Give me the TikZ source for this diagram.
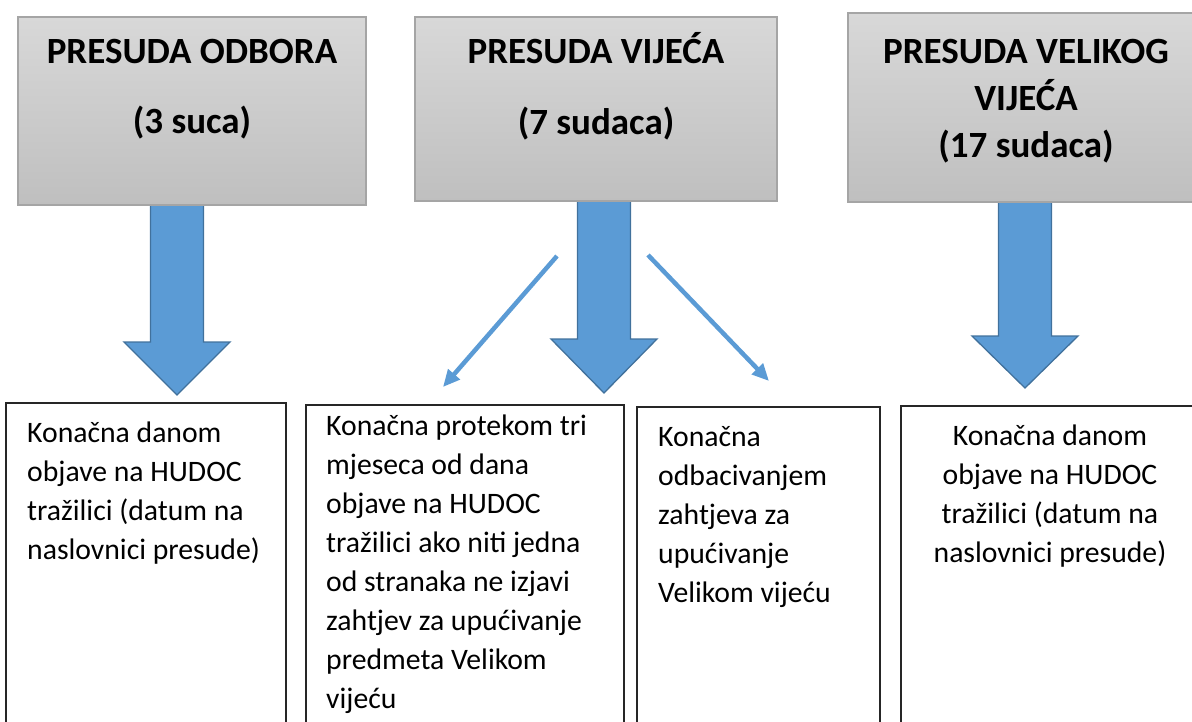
\documentclass[tikz,border=0pt]{standalone}
\usepackage{fontspec}
\setmainfont{Carlito}
\usetikzlibrary{arrows.meta,calc}
\definecolor{boxtop}{HTML}{D8D8D8}
\definecolor{boxbot}{HTML}{BFBFBF}
\definecolor{boxedge}{HTML}{A5A5A5}
\definecolor{arrfill}{HTML}{5B9BD5}
\definecolor{arredge}{HTML}{41719C}
\newcommand{\myblockarrow}[4]{% cx, top, headbase, tip
  \draw[blockarrowstyle] (#1-26.5,#2) -- (#1+26.5,#2) -- (#1+26.5,#3) -- (#1+53,#3) -- (#1,#4) -- (#1-53,#3) -- (#1-26.5,#3) -- cycle;}
\begin{document}
\begin{tikzpicture}[x=1pt,y=-1pt,
  titlebox/.style={draw=boxedge, line width=1.3pt, top color=boxtop, bottom color=boxbot, anchor=north west, inner sep=0pt, outer sep=0pt},
  textbox/.style={draw=black!85, line width=1.2pt, fill=white, anchor=north west, inner sep=0pt, outer sep=0pt},
  titletext/.style={anchor=north, align=center, inner sep=0pt, text=black},
  bodytext/.style={inner sep=0pt, text=black, font=\fontsize{29.7}{39}\selectfont},
  blockarrowstyle/.style={fill=arrfill, draw=arredge, line width=1.3pt, line join=miter},
  thinarrow/.style={draw=arrfill, line width=4.5pt, -{Triangle[length=17pt,width=15pt]}}]
\useasboundingbox (0,0) rectangle (1192,722);
% block arrows
\myblockarrow{177}{205}{342}{395}
\myblockarrow{604}{201}{339}{393}
\myblockarrow{1025}{202}{336}{388}
% top boxes
\node[titlebox, minimum width=348pt, minimum height=188pt] (t1) at (18,17) {};
\node[titlebox, minimum width=362pt, minimum height=184pt] (t2) at (415,17) {};
\node[titlebox, minimum width=356pt, minimum height=189pt] (t3) at (848,13) {};
\node[titletext, font=\bfseries\fontsize{37}{70}\selectfont] (t1t) at (192,14) {\strut PRESUDA ODBORA\\(3 suca)};
\node[titletext, font=\bfseries\fontsize{37}{71}\selectfont] (t2t) at (596,13.3) {\strut PRESUDA VIJEĆA\\(7 sudaca)};
\node[titletext, font=\bfseries\fontsize{37}{47}\selectfont] (t3t) at (1026,30.1) {\strut PRESUDA VELIKOG\\VIJEĆA\\(17 sudaca)};
% thin arrows
\coordinate (l1s) at (557,256);
\coordinate (l1e) at (443,387);
\coordinate (l2s) at (648,255);
\coordinate (l2e) at (769,381);
\draw[thinarrow] (l1s) -- (l1e);
\draw[thinarrow] (l2s) -- (l2e);
% bottom boxes
\node[textbox, minimum width=280pt, minimum height=330pt] (b1) at (6,403) {};
\node[textbox, minimum width=318pt, minimum height=330pt] (b2) at (306,405) {};
\node[textbox, minimum width=243pt, minimum height=330pt] (b3) at (637,407) {};
\node[textbox, minimum width=300pt, minimum height=330pt] (b4) at (901,406) {};
\node[bodytext, anchor=north west, align=left] (b1t) at (27,414.7) {\strut Konačna danom\\objave na HUDOC\\tražilici (datum na\\naslovnici presude)};
\node[bodytext, anchor=north west, align=left] (b2t) at (326,408.3) {\strut Konačna protekom tri\\mjeseca od dana\\objave na HUDOC\\tražilici ako niti jedna\\od stranaka ne izjavi\\zahtjev za upućivanje\\predmeta Velikom\\vijeću};
\node[bodytext, anchor=north west, align=left] (b3t) at (658,419.4) {\strut Konačna\\odbacivanjem\\zahtjeva za\\upućivanje\\Velikom vijeću};
\node[bodytext, anchor=north, align=center] (b4t) at (1050,417.7) {\strut Konačna danom\\objave na HUDOC\\tražilici (datum na\\naslovnici presude)};
\end{tikzpicture}
\end{document}
